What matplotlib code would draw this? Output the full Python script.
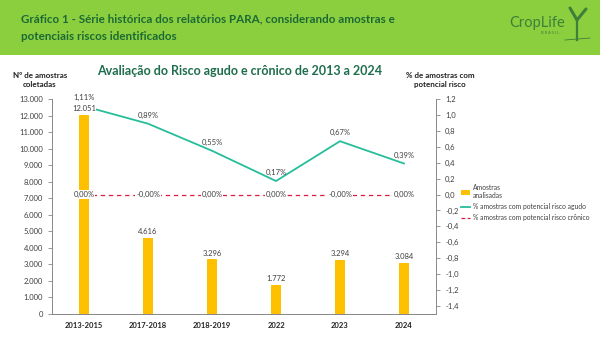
import matplotlib
matplotlib.use("Agg")
import matplotlib.pyplot as plt
from matplotlib.patches import Rectangle
from matplotlib.lines import Line2D
from matplotlib.patches import Patch

plt.rcParams['font.family'] = ['Lato', 'DejaVu Sans']

# Data
periods = ["2013-2015", "2017-2018", "2018-2019", "2022", "2023", "2024"]
samples = [12051, 4616, 3296, 1772, 3294, 3084]
sample_labels = ["12.051", "4.616", "3.296", "1.772", "3.294", "3.084"]
acute_pct = [1.11, 0.89, 0.55, 0.17, 0.67, 0.39]
chronic_pct = [0.0, 0.0, 0.0, 0.0, 0.0, 0.0]
chronic_labels = ["0,00%", "-0,00%", "0,00%", "0,00%", "-0,00%", "0,00%"]
left_ticks = list(range(0, 13001, 1000))
right_ticks = [round(-1.4 + 0.2 * i, 1) for i in range(14)]

BAR = "#FFC000"
ACUTE = "#26BE9A"
CHRONIC = "#E0183C"
HEAD_GREEN = "#8CCF3E"
DARK_GREEN = "#1B6A35"
TITLE_GREEN = "#1E6E4E"
TXT = "#404040"

fig = plt.figure(figsize=(6, 3.38), dpi=100)

# Header band
fig.patches.append(Rectangle((0, 1 - 55 / 338), 1, 55 / 338, transform=fig.transFigure,
                             facecolor=HEAD_GREEN, edgecolor="none", zorder=0))
fig.text(21 / 600, 1 - 19 / 338,
         "Gráfico 1 - Série histórica dos relatórios PARA, considerando amostras e",
         fontsize=8.4, fontweight="bold", color=DARK_GREEN, va="center", ha="left")
fig.text(21 / 600, 1 - 36 / 338, "potenciais riscos identificados",
         fontsize=8.4, fontweight="bold", color=DARK_GREEN, va="center", ha="left")

# Logo
fig.text(537 / 600, 1 - 23 / 338, "CropLife", fontsize=10.5, color="#3E7F3A",
         ha="center", va="center")
fig.text(550 / 600, 1 - 33 / 338, "B R A S I L", fontsize=3, color="#3E7F3A",
         ha="center", va="center")
fig.add_artist(Line2D([577 / 600, 577 / 600], [1 - 40 / 338, 1 - 20 / 338],
                      transform=fig.transFigure, color="#3E7F3A", lw=1.6))
fig.add_artist(Line2D([570 / 600, 577 / 600, 586 / 600], [1 - 8 / 338, 1 - 20 / 338, 1 - 9 / 338],
                      transform=fig.transFigure, color="#3E7F3A", lw=2.2, solid_capstyle="round"))
fig.add_artist(Line2D([565 / 600, 590 / 600], [1 - 40 / 338, 1 - 38 / 338],
                      transform=fig.transFigure, color="#3E7F3A", lw=0.6))

# Chart title
fig.text(240 / 600, 1 - 71 / 338, "Avaliação do Risco agudo e crônico de 2013 a 2024",
         fontsize=9, fontweight="bold", color=TITLE_GREEN, ha="center", va="center")

ax = fig.add_axes([52 / 600, 24 / 338, 384 / 600, 215 / 338])
ax2 = ax.twinx()

x = list(range(len(periods)))
ax.bar(x, samples, width=0.17, color=BAR, zorder=2)
ax.set_xlim(-0.5, len(periods) - 0.5)
ax.set_ylim(0, 13000)
ax.set_yticks(left_ticks)
ax.set_yticklabels([f"{v:,}".replace(",", ".") for v in left_ticks])
ax.set_xticks(x)
ax.set_xticklabels(periods, fontweight="bold")
ax.tick_params(axis="x", length=0, labelsize=5.5, colors="#222222", pad=6)
ax.tick_params(axis="y", length=3, width=0.6, labelsize=5.5, colors="#888888",
               labelcolor=TXT, direction="out")

ax2.plot(x, acute_pct, color=ACUTE, lw=1.3, zorder=3)
ax2.plot(x, chronic_pct, color=CHRONIC, lw=0.9, dashes=(3.5, 3), zorder=3)
ax2.set_ylim(-1.5, 1.2)
ax2.set_yticks(right_ticks)
ax2.set_yticklabels([f"{v:.1f}".replace(".", ",") for v in right_ticks])
ax2.tick_params(axis="y", length=3, width=0.6, labelsize=5.5, colors="#888888",
                labelcolor=TXT, direction="out")

# Bar value labels sit above the lines layer
for xi, v, lab in zip(x, samples, sample_labels):
    ax2.text(xi, v + 180, lab, transform=ax.transData, ha="center", va="bottom",
             fontsize=5.5, color=TXT,
             bbox=dict(facecolor="white", edgecolor="none", pad=0.3), zorder=5)

for xi, v in zip(x, acute_pct):
    ax2.text(xi, v + 0.06, f"{v:.2f}%".replace(".", ","), ha="center", va="bottom",
             fontsize=5.5, color=TXT, zorder=6)
for xi, v, lab in zip(x, chronic_pct, chronic_labels):
    ax2.text(xi, v, lab, ha="center", va="center", fontsize=5.5, color=TXT,
             bbox=dict(facecolor="white", edgecolor="none", pad=0.5), zorder=6)

for a in (ax, ax2):
    a.spines["top"].set_visible(False)
    for s in ("left", "right", "bottom"):
        a.spines[s].set_color("#888888")
        a.spines[s].set_linewidth(0.7)
ax.spines["right"].set_visible(False)
ax2.spines["left"].set_visible(False)

# Axis captions
fig.text(40 / 600, 1 - 80 / 338, "Nº de amostras\ncoletadas", fontsize=5.8,
         fontweight="bold", color="#222222", ha="center", va="center", linespacing=1.2)
fig.text(440 / 600, 1 - 80 / 338, "% de amostras com\npotencial risco", fontsize=5.8,
         fontweight="bold", color="#222222", ha="center", va="center", linespacing=1.2)

# Legend
handles = [Patch(facecolor=BAR, edgecolor="none"),
           Line2D([], [], color=ACUTE, lw=1.3),
           Line2D([], [], color=CHRONIC, lw=0.9, dashes=(3, 2))]
labels = ["Amostras\nanalisadas", "% amostras com potencial risco agudo",
          "% amostras com potencial risco crônico"]
fig.legend(handles, labels, loc="upper left", bbox_to_anchor=(461 / 600, 1 - 184 / 338),
           frameon=False, fontsize=4.9, handlelength=1.3, handletextpad=0.4,
           labelspacing=0.6, labelcolor=TXT, borderpad=0, borderaxespad=0)

fig.savefig("out.png", dpi=100)
